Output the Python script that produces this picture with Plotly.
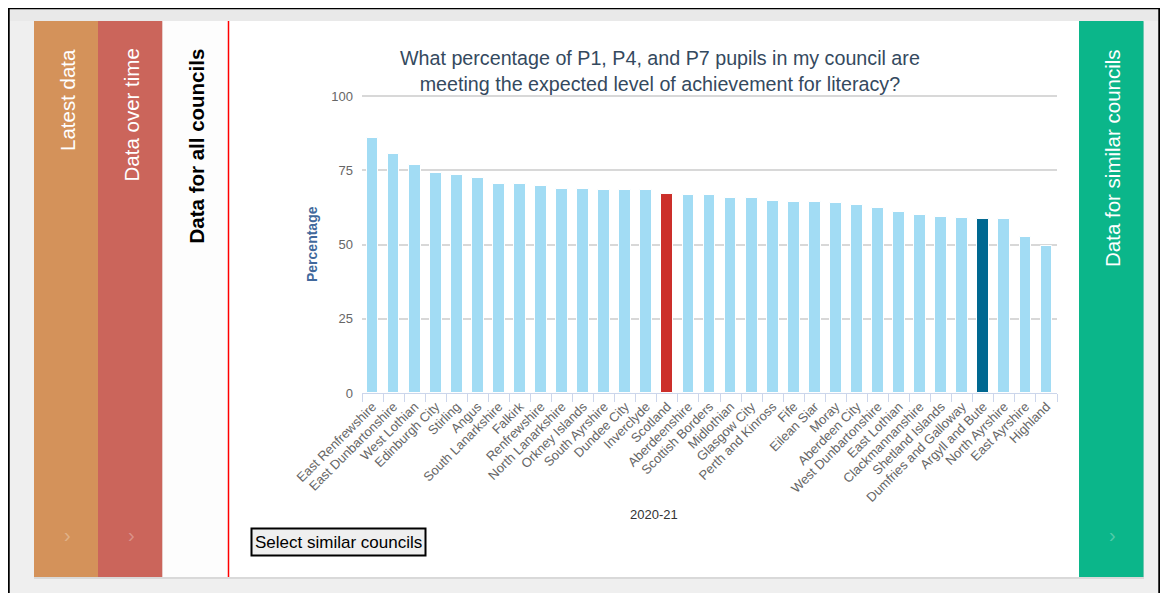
import plotly.graph_objects as go

councils = ["East Renfrewshire", "East Dunbartonshire", "West Lothian", "Edinburgh City",
            "Stirling", "Angus", "South Lanarkshire", "Falkirk", "Renfrewshire",
            "North Lanarkshire", "Orkney Islands", "South Ayrshire", "Dundee City",
            "Inverclyde", "Scotland", "Aberdeenshire", "Scottish Borders", "Midlothian",
            "Glasgow City", "Perth and Kinross", "Fife", "Eilean Siar", "Moray",
            "Aberdeen City", "West Dunbartonshire", "East Lothian", "Clackmannanshire",
            "Shetland Islands", "Dumfries and Galloway", "Argyll and Bute",
            "North Ayrshire", "East Ayrshire", "Highland"]
values = [86.0, 80.3, 76.6, 74.1, 73.5, 72.4, 70.3, 70.3, 69.8, 68.6, 68.6, 68.3, 68.3,
          68.3, 66.9, 66.5, 66.5, 65.7, 65.7, 64.8, 64.3, 64.3, 64.0, 63.2, 62.3, 60.8,
          59.9, 59.4, 59.0, 58.6, 58.6, 52.4, 49.4]
y_ticks = [0, 25, 50, 75, 100]
year_label = "2020-21"

highlight = {"Scotland": "#cc2f2a", "Argyll and Bute": "#006891"}
bar_colors = [highlight.get(c, "#a2dcf4") for c in councils]

# page pixels -> paper coords (body has an 8px margin)
OFF = 8
W, H = 1152, 585
def fx(px):
    return (px - OFF) / W
def fy(py):
    return 1 - (py - OFF) / H

FONT = "Liberation Sans, Arial, sans-serif"
PX_PER_UNIT = (393 - 96) / 100

fig = go.Figure()
fig.add_trace(go.Bar(x=councils, y=values, width=0.56,
                     marker=dict(color=bar_colors, line=dict(color="white", width=1)),
                     hoverinfo="x+y"))

shapes = []
def rect(x0, y0, x1, y1, fill, line=None, lw=0, layer="below"):
    shapes.append(dict(type="rect", xref="paper", yref="paper",
                       x0=fx(x0), x1=fx(x1), y0=fy(y1), y1=fy(y0),
                       fillcolor=fill, line=dict(color=line or fill, width=lw), layer=layer))
def line(x0, y0, x1, y1, color, lw):
    shapes.append(dict(type="line", xref="paper", yref="paper",
                       x0=fx(x0), x1=fx(x1), y0=fy(y0), y1=fy(y1),
                       line=dict(color=color, width=lw), layer="below"))

# page furniture
rect(10, 9, 1158, 600, "#efefef")
rect(10, 9, 1158, 21, "#e9e9e9")
rect(34, 22, 1144, 579, "#d9d9d9")
rect(34, 21, 98, 577, "#d4925a")
rect(98, 21, 162.5, 577, "#cb655b")
rect(162.5, 21, 228, 577, "#fdfdfd")
rect(228, 21, 1079, 577, "#ffffff")
rect(1079, 21, 1143.5, 577, "#0bb68a")
line(228.5, 21, 228.5, 577, "#ff0000", 1.5)
line(8, 8, 1160, 8, "#000000", 2.5)
line(8.5, 8, 8.5, 601, "#000000", 2.5)
line(1159.5, 8, 1159.5, 601, "#000000", 2.5)
# button
rect(251.5, 528.5, 425.5, 555.5, "#efefef", line="#000000", lw=2, layer="above")

annotations = []
def text(x, y, s, size, color, xanchor="center", yanchor="middle", angle=0):
    annotations.append(dict(x=fx(x), y=fy(y), xref="paper", yref="paper", text=s,
                            showarrow=False, textangle=angle, xanchor=xanchor,
                            yanchor=yanchor, font=dict(family=FONT, size=size, color=color)))

text(67, 47, "Latest data", 20.5, "white", yanchor="top", angle=-90)
text(131, 47, "Data over time", 20.5, "white", yanchor="top", angle=-90)
text(196, 47, "<b>Data for all councils</b>", 20.5, "black", yanchor="top", angle=-90)
text(1112, 47, "Data for similar councils", 20.5, "white", yanchor="top", angle=-90)
text(67, 535, "›", 20, "rgba(255,255,255,0.3)")
text(131, 535, "›", 20, "rgba(255,255,255,0.3)")
text(1112, 535, "›", 20, "rgba(255,255,255,0.3)")
text(660, 45, "What percentage of P1, P4, and P7 pupils in my council are<br>"
              "meeting the expected level of achievement for literacy?",
     19.7, "#34495e", yanchor="top")
text(312, 244, "<b>Percentage</b>", 14, "#41689c", angle=-90)
text(654, 514, year_label, 13, "#333333")
text(338.5, 542, "Select similar councils", 17, "#000000")

fig.update_layout(
    width=W, height=H, autosize=False,
    margin=dict(l=0, r=0, t=0, b=0),
    template="none",
    paper_bgcolor="white", plot_bgcolor="rgba(0,0,0,0)",
    showlegend=False, bargap=0,
    font=dict(family=FONT),
    shapes=shapes, annotations=annotations,
    xaxis=dict(domain=[fx(362), fx(1057)], automargin=False, type="category",
               tickangle=-45, tickfont=dict(size=13, color="#666666"),
               showline=True, linecolor="#ccd6eb", linewidth=1,
               ticks="outside", tickson="boundaries", ticklen=8, tickcolor="#ccd6eb",
               showgrid=False, zeroline=False),
    yaxis=dict(domain=[fy(393), fy(96 - PX_PER_UNIT)], automargin=False, range=[0, 101],
               tickvals=y_ticks, tickfont=dict(size=13, color="#666666"),
               showgrid=True, gridcolor="#d8d8d8", gridwidth=1.5,
               zeroline=False, showline=False, ticks="", ticklabelstandoff=8),
)

fig.write_html("out.html")
